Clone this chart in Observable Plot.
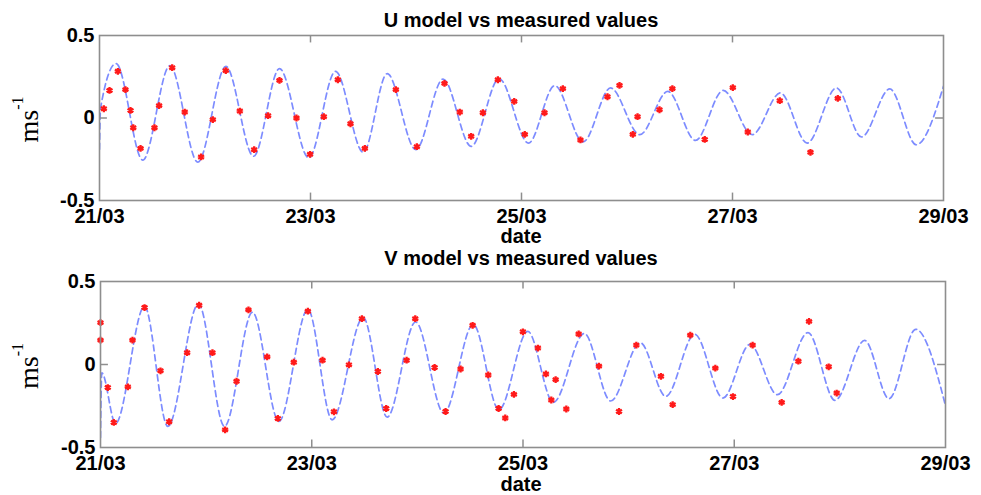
<!DOCTYPE html>
<html>
<head>
<meta charset="utf-8">
<script src="https://cdn.jsdelivr.net/npm/d3@7"></script>
<script src="https://cdn.jsdelivr.net/npm/@observablehq/plot@0.6"></script>
<style>
  body { margin: 0; background: #fff; }
  #chart { position: relative; width: 981px; height: 495px; }
  #chart svg { display: block; position: absolute; left: 0; }
  .lbl {
    position: absolute; left: 99px; width: 844px; text-align: center;
    font: bold 20px/20px 'Liberation Sans', Arial, sans-serif; color: #000;
    white-space: nowrap;
  }
</style>
</head>
<body>
<div id="chart"></div>
<script>
// Axis ticks (x in day of March)
const ticksX = [21, 23, 25, 27, 29];
const tickLabelsX = ["21/03", "23/03", "25/03", "27/03", "29/03"];
const ticksY = [-0.5, 0, 0.5];
const tickLabelsY = ["-0.5", "0", "0.5"];

// U component: model turning points (day, m/s)
const uModelDay = [21.000, 21.010, 21.157, 21.410, 21.667, 21.932, 22.198, 22.460, 22.706, 22.984,
  23.237, 23.500, 23.727, 23.998, 24.257, 24.523, 24.788, 25.066, 25.315, 25.584,
  25.844, 26.122, 26.387, 26.649, 26.912, 27.187, 27.454, 27.707, 27.986, 28.223,
  28.491, 28.742, 29.000];
const uModelVal = [-0.19, 0.06, 0.330, -0.255, 0.317, -0.268, 0.313, -0.232, 0.299, -0.242,
  0.283, -0.208, 0.269, -0.192, 0.236, -0.172, 0.238, -0.152, 0.196, -0.145,
  0.182, -0.101, 0.161, -0.136, 0.167, -0.101, 0.152, -0.152, 0.182, -0.115,
  0.176, -0.162, 0.192];

// U component: measured values
const uObsDay = [21.041, 21.095, 21.174, 21.246, 21.294, 21.320, 21.389, 21.521, 21.565, 21.689,
  21.808, 21.963, 22.074, 22.197, 22.330, 22.466, 22.598, 22.706, 22.867, 22.996,
  23.126, 23.259, 23.379, 23.515, 23.809, 24.008, 24.270, 24.415, 24.523, 24.634,
  24.776, 24.931, 25.031, 25.218, 25.392, 25.559, 25.815, 25.929, 26.055, 26.100,
  26.308, 26.430, 26.737, 27.003, 27.145, 27.448, 27.739, 27.998];
const uObsVal = [0.056, 0.167, 0.283, 0.172, 0.046, -0.059, -0.184, -0.059, 0.075, 0.305,
  0.036, -0.236, -0.010, 0.287, 0.042, -0.192, 0.014, 0.228, 0.000, -0.220,
  0.008, 0.232, -0.035, -0.184, 0.172, -0.174, 0.210, 0.036, -0.111, 0.032,
  0.232, 0.101, -0.099, 0.032, 0.178, -0.133, 0.129, 0.198, -0.099, 0.008,
  0.050, 0.178, -0.130, 0.184, -0.085, 0.105, -0.208, 0.119];

// V component: model turning points (day, m/s)
const vModelDay = [21.000, 21.012, 21.142, 21.417, 21.637, 21.928, 22.174, 22.439, 22.689, 22.963,
  23.193, 23.487, 23.714, 23.983, 24.251, 24.529, 24.772, 25.045, 25.287, 25.580,
  25.830, 26.110, 26.352, 26.626, 26.893, 27.149, 27.408, 27.698, 27.954, 28.235,
  28.465, 28.718, 29.000];
const vModelVal = [-0.44, -0.05, -0.355, 0.350, -0.373, 0.365, -0.373, 0.315, -0.343, 0.333,
  -0.333, 0.283, -0.317, 0.256, -0.293, 0.242, -0.273, 0.200, -0.228, 0.187,
  -0.220, 0.131, -0.192, 0.182, -0.202, 0.121, -0.182, 0.192, -0.216, 0.145,
  -0.206, 0.212, -0.248];

// V component: measured values
const vObsDay = [21.000, 21.000, 21.069, 21.126, 21.259, 21.303, 21.417, 21.568, 21.650, 21.820,
  21.934, 22.060, 22.180, 22.288, 22.401, 22.578, 22.679, 22.830, 22.963, 23.102,
  23.210, 23.352, 23.475, 23.626, 23.705, 23.898, 23.980, 24.163, 24.267, 24.409,
  24.523, 24.671, 24.769, 24.832, 24.914, 24.999, 25.141, 25.217, 25.268, 25.309,
  25.410, 25.527, 25.719, 25.909, 26.073, 26.306, 26.417, 26.584, 26.821, 26.988,
  27.174, 27.449, 27.607, 27.708, 27.894, 27.970];
const vObsVal = [0.252, 0.147, -0.139, -0.349, -0.135, 0.147, 0.343, -0.038, -0.345, 0.071,
  0.357, 0.071, -0.394, -0.101, 0.329, 0.046, -0.325, 0.014, 0.321, 0.026,
  -0.285, -0.002, 0.276, -0.042, -0.265, 0.026, 0.276, -0.018, -0.283, -0.027,
  0.236, -0.063, -0.265, -0.322, -0.180, 0.197, 0.099, -0.057, -0.214, -0.091,
  -0.268, 0.184, -0.010, -0.283, 0.117, -0.071, -0.242, 0.177, -0.022, -0.193,
  0.117, -0.228, 0.020, 0.260, -0.014, -0.172];

const frameColor = "#8e8e8e";
const zip = (xs, ys) => xs.map((x, i) => ({x, y: ys[i]}));

function panel({modelDay, modelVal, obsDay, obsVal, height, margin}) {
  const model = zip(modelDay, modelVal);
  const obs = zip(obsDay, obsVal);
  const inner = ticksX.slice(1, -1);
  const svg = Plot.plot({
    width: 981,
    height,
    marginLeft: margin[0],
    marginRight: margin[1],
    marginTop: margin[2],
    marginBottom: margin[3],
    style: {
      fontFamily: "'Liberation Sans', Arial, sans-serif",
      fontSize: "20px",
      fontWeight: "bold",
      color: "#000",
      background: "transparent"
    },
    x: {domain: [21, 29]},
    y: {domain: [-0.5, 0.5]},
    marks: [
      Plot.line(model, {x: "x", y: "y", curve: "monotone-x", stroke: "#7d8cff",
        strokeWidth: 1.7, strokeDasharray: "6,4", clip: true}),
      Plot.dot(obs, {x: "x", y: "y", symbol: "asterisk", r: 3.2, stroke: "#ff1a1a", strokeWidth: 2.3}),
      // inward tick marks on all four sides
      Plot.ruleX(inner, {x: d => d, y1: 0.5, y2: 0.455, stroke: frameColor, strokeWidth: 1.5}),
      Plot.ruleX(inner, {x: d => d, y1: -0.5, y2: -0.455, stroke: frameColor, strokeWidth: 1.5}),
      Plot.ruleY([0], {y: d => d, x1: 21, x2: 21.075, stroke: frameColor, strokeWidth: 1.5}),
      Plot.ruleY([0], {y: d => d, x1: 29, x2: 28.925, stroke: frameColor, strokeWidth: 1.5}),
      Plot.frame({stroke: frameColor, strokeWidth: 1.6}),
      Plot.axisX(ticksX, {tickSize: 0, tickPadding: 8, fontSize: 20,
        tickFormat: d => tickLabelsX[ticksX.indexOf(d)], label: null}),
      Plot.axisY(ticksY, {tickSize: 0, tickPadding: 5, fontSize: 20,
        tickFormat: d => tickLabelsY[ticksY.indexOf(d)], label: null})
    ]
  });
  // y-axis unit label with superscript
  const cy = margin[2] + (height - margin[2] - margin[3]) / 2 + 2;
  const t = d3.select(svg).append("text")
    .attr("transform", `translate(38,${cy}) rotate(-90)`)
    .attr("text-anchor", "middle")
    .style("font-family", "'Liberation Serif', 'Times New Roman', serif")
    .style("font-weight", "normal")
    .style("font-size", "28px")
    .attr("fill", "#000");
  t.append("tspan").text("ms");
  t.append("tspan").attr("dy", -15).style("font-size", "16px").text("-1");
  return svg;
}

function label(text, y) {
  const div = document.createElement("div");
  div.className = "lbl";
  div.style.top = y + "px";
  div.textContent = text;
  return div;
}

const root = document.getElementById("chart");
const uPanel = panel({
  modelDay: uModelDay, modelVal: uModelVal, obsDay: uObsDay, obsVal: uObsVal,
  height: 245, margin: [99, 38, 35, 45]
});
uPanel.style.top = "0px";
const vPanel = panel({
  modelDay: vModelDay, modelVal: vModelVal, obsDay: vObsDay, obsVal: vObsVal,
  height: 245, margin: [100, 36, 31, 48]
});
vPanel.style.top = "250px";
root.append(uPanel, vPanel);
root.append(
  label("U model vs measured values", 10),
  label("date", 226),
  label("V model vs measured values", 248),
  label("date", 474)
);
</script>
</body>
</html>
